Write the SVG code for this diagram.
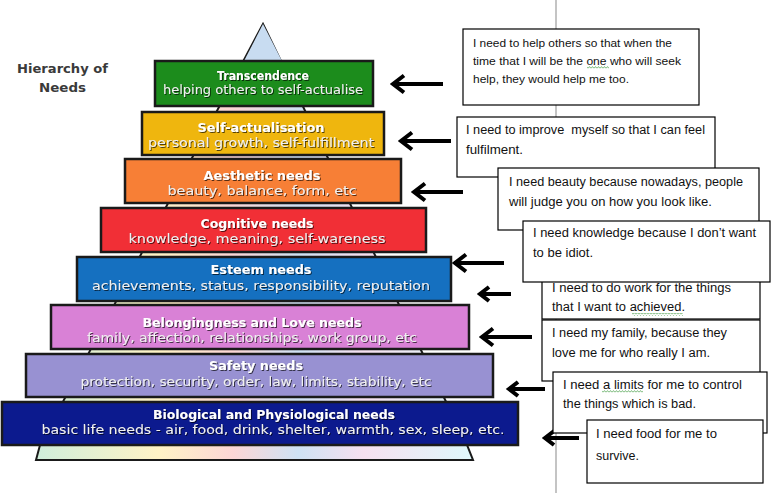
<svg xmlns="http://www.w3.org/2000/svg" width="779" height="493" viewBox="0 0 779 493">
  <style>
    .bar { stroke: #1a1a1a; stroke-width: 2.5; }
    .bt { font-family: "DejaVu Sans", Verdana, sans-serif; font-weight: bold; font-size: 12.5px; fill: #ffffff; text-anchor: middle; }
    .bs { font-family: "DejaVu Sans", Verdana, sans-serif; font-size: 12px; fill: #f0f0f0; text-anchor: middle; }
    .box { fill: #ffffff; stroke: #000000; stroke-width: 1.2; }
    .nt { font-family: "Liberation Sans", Arial, sans-serif; font-size: 12.5px; fill: #111111; }
    .arr { fill: none; stroke: #000000; stroke-width: 4; stroke-linejoin: miter; }
    .title { font-family: "DejaVu Sans", Verdana, sans-serif; font-weight: bold; font-size: 13px; fill: #3a3a3a; }
  </style>
  <defs>
    <linearGradient id="rainbow" x1="36" y1="0" x2="473" y2="0" gradientUnits="userSpaceOnUse">
      <stop offset="0" stop-color="#cfeedb"/>
      <stop offset="0.28" stop-color="#fff3c6"/>
      <stop offset="0.45" stop-color="#fcd6d6"/>
      <stop offset="0.6" stop-color="#cfe2f4"/>
      <stop offset="0.75" stop-color="#f6e0f0"/>
      <stop offset="1" stop-color="#dff8fb"/>
    </linearGradient>
    <filter id="shadow" x="-5%" y="-30%" width="110%" height="160%">
      <feDropShadow dx="1" dy="1" stdDeviation="0.6" flood-color="#000000" flood-opacity="0.65"/>
    </filter>
    <pattern id="wavy" width="3" height="3" patternUnits="userSpaceOnUse">
      <path d="M0,2.4 L1.5,0.6 L3,2.4" fill="none" stroke="#3c9a3c" stroke-width="0.7"/>
    </pattern>
  </defs>

  <rect width="779" height="493" fill="#ffffff"/>
  <line x1="556" y1="0" x2="556" y2="493" stroke="#c4c4c4" stroke-width="2"/>

  <g id="heading">
    <text class="title" x="17" y="73" textLength="91" lengthAdjust="spacingAndGlyphs">Hierarchy of</text>
    <text class="title" x="39" y="92" textLength="47" lengthAdjust="spacingAndGlyphs">Needs</text>
  </g>

  <g id="pyramid">
    <polygon points="263,24 467,445 473,460 36,460 40,445" fill="url(#rainbow)" stroke="#1a1a1a" stroke-width="2"/>
    <polygon points="263,24 244,61 282,61" fill="#c8dcf1"/>
  </g>

  <g id="transcendence">
    <rect class="bar" x="155" y="61" width="218" height="45" fill="#1c8c1c"/>
    <g filter="url(#shadow)">
      <text class="bt" x="263" y="80" textLength="92" lengthAdjust="spacingAndGlyphs">Transcendence</text>
      <text class="bs" x="263" y="94" textLength="200" lengthAdjust="spacingAndGlyphs">helping others to self-actualise</text>
    </g>
  </g>
  <g id="self-actualisation">
    <rect class="bar" x="142" y="112" width="242" height="43" fill="#efb60e"/>
    <g filter="url(#shadow)">
      <text class="bt" x="261" y="132" textLength="127" lengthAdjust="spacingAndGlyphs">Self-actualisation</text>
      <text class="bs" x="261" y="147" textLength="226" lengthAdjust="spacingAndGlyphs">personal growth, self-fulfillment</text>
    </g>
  </g>
  <g id="aesthetic">
    <rect class="bar" x="125" y="159" width="276" height="44" fill="#f77f36"/>
    <g filter="url(#shadow)">
      <text class="bt" x="262" y="180" textLength="117" lengthAdjust="spacingAndGlyphs">Aesthetic needs</text>
      <text class="bs" x="262" y="195" textLength="189" lengthAdjust="spacingAndGlyphs">beauty, balance, form, etc</text>
    </g>
  </g>
  <g id="cognitive">
    <rect class="bar" x="101" y="208" width="325" height="44" fill="#f12f36"/>
    <g filter="url(#shadow)">
      <text class="bt" x="257" y="228" textLength="113" lengthAdjust="spacingAndGlyphs">Cognitive needs</text>
      <text class="bs" x="257" y="243" textLength="257" lengthAdjust="spacingAndGlyphs">knowledge, meaning, self-wareness</text>
    </g>
  </g>
  <g id="esteem">
    <rect class="bar" x="77" y="257" width="374" height="44" fill="#1570c0"/>
    <g filter="url(#shadow)">
      <text class="bt" x="261" y="274" textLength="101" lengthAdjust="spacingAndGlyphs">Esteem needs</text>
      <text class="bs" x="261" y="290" textLength="338" lengthAdjust="spacingAndGlyphs">achievements, status, responsibility, reputation</text>
    </g>
  </g>
  <g id="belongingness">
    <rect class="bar" x="51" y="305" width="418" height="44" fill="#d981d6"/>
    <g filter="url(#shadow)">
      <text class="bt" x="252" y="327" textLength="219" lengthAdjust="spacingAndGlyphs">Belongingness and Love needs</text>
      <text class="bs" x="252" y="342" textLength="330" lengthAdjust="spacingAndGlyphs">family, affection, relationships, work group, etc</text>
    </g>
  </g>
  <g id="safety">
    <rect class="bar" x="26" y="354" width="467" height="43" fill="#9891d2"/>
    <g filter="url(#shadow)">
      <text class="bt" x="256" y="370" textLength="94" lengthAdjust="spacingAndGlyphs">Safety needs</text>
      <text class="bs" x="256" y="386" textLength="351" lengthAdjust="spacingAndGlyphs">protection, security, order, law, limits, stability, etc</text>
    </g>
  </g>
  <g id="biological">
    <rect class="bar" x="2" y="402" width="516" height="43" fill="#0c1a8e"/>
    <g filter="url(#shadow)">
      <text class="bt" x="274" y="419" textLength="242" lengthAdjust="spacingAndGlyphs">Biological and Physiological needs</text>
      <text class="bs" x="273" y="434" textLength="463" lengthAdjust="spacingAndGlyphs">basic life needs - air, food, drink, shelter, warmth, sex, sleep, etc.</text>
    </g>
  </g>

  <g id="connectors">
    <path class="arr" d="M443,84 L393,84 M404,75.5 L393,84 L404,92.5"/>
    <path class="arr" d="M451,141 L401,141 M412,132.5 L401,141 L412,149.5"/>
    <path class="arr" d="M463,192 L414,192 M425,183.5 L414,192 L425,200.5"/>
    <path class="arr" d="M504,263 L455,263 M466,254.5 L455,263 L466,271.5"/>
    <path class="arr" d="M511,294 L480,294 M489,287 L480,294 L489,301"/>
    <path class="arr" d="M532,337 L482,337 M493,328.5 L482,337 L493,345.5"/>
    <path class="arr" d="M545,389 L509,389 M518,382 L509,389 L518,396"/>
    <path class="arr" d="M579,438 L545,438 M554,431 L545,438 L554,445"/>
  </g>

  <g id="note-transcendence">
    <rect class="box" x="463" y="29" width="236" height="76"/>
    <text class="nt" style="font-size:10.8px" x="473" y="47" textLength="199" lengthAdjust="spacingAndGlyphs">I need to help others so that when the</text>
    <text class="nt" style="font-size:10.8px" x="473" y="65" textLength="208" lengthAdjust="spacingAndGlyphs">time that I will be the one who will seek</text>
    <text class="nt" style="font-size:10.8px" x="473" y="83" textLength="156" lengthAdjust="spacingAndGlyphs">help, they would help me too.</text>
    <rect x="587" y="66" width="22" height="3" fill="url(#wavy)"/>
  </g>
  <g id="note-self-actualisation">
    <rect class="box" x="457" y="117" width="258" height="60"/>
    <text class="nt" xml:space="preserve" x="466" y="134" textLength="239" lengthAdjust="spacingAndGlyphs">I need to improve  myself so that I can feel</text>
    <text class="nt" x="466" y="154" textLength="57" lengthAdjust="spacingAndGlyphs">fulfilment.</text>
  </g>
  <g id="note-aesthetic">
    <rect class="box" x="498" y="168" width="261" height="62"/>
    <text class="nt" x="509" y="186" textLength="234" lengthAdjust="spacingAndGlyphs">I need beauty because nowadays, people</text>
    <text class="nt" x="509" y="206" textLength="203" lengthAdjust="spacingAndGlyphs">will judge you on how you look like.</text>
  </g>
  <g id="note-esteem">
    <rect class="box" x="542" y="270" width="218" height="49"/>
    <text class="nt" x="552" y="292" textLength="179" lengthAdjust="spacingAndGlyphs">I need to do work for the things</text>
    <text class="nt" x="552" y="311" textLength="133" lengthAdjust="spacingAndGlyphs">that I want to achieved.</text>
    <rect x="632" y="313" width="51" height="3" fill="url(#wavy)"/>
  </g>
  <g id="note-cognitive">
    <rect class="box" x="523" y="221" width="247" height="61"/>
    <text class="nt" x="533" y="237" textLength="223" lengthAdjust="spacingAndGlyphs">I need knowledge because I don’t want</text>
    <text class="nt" x="533" y="257" textLength="60" lengthAdjust="spacingAndGlyphs">to be idiot.</text>
  </g>
  <g id="note-belongingness">
    <rect class="box" x="542" y="320" width="218" height="61"/>
    <text class="nt" x="552" y="337" textLength="175" lengthAdjust="spacingAndGlyphs">I need my family, because they</text>
    <text class="nt" x="552" y="357" textLength="158" lengthAdjust="spacingAndGlyphs">love me for who really I am.</text>
  </g>
  <g id="note-safety">
    <rect class="box" x="553" y="372" width="214" height="61"/>
    <text class="nt" x="563" y="388.5" textLength="179" lengthAdjust="spacingAndGlyphs">I need a limits for me to control</text>
    <text class="nt" x="563" y="408" textLength="133" lengthAdjust="spacingAndGlyphs">the things which is bad.</text>
    <rect x="602" y="390" width="41" height="3" fill="url(#wavy)"/>
  </g>
  <g id="note-biological">
    <rect class="box" x="587" y="420" width="176" height="63"/>
    <text class="nt" x="596" y="438" textLength="121" lengthAdjust="spacingAndGlyphs">I need food for me to</text>
    <text class="nt" x="596" y="459.5" textLength="43" lengthAdjust="spacingAndGlyphs">survive.</text>
  </g>
</svg>
